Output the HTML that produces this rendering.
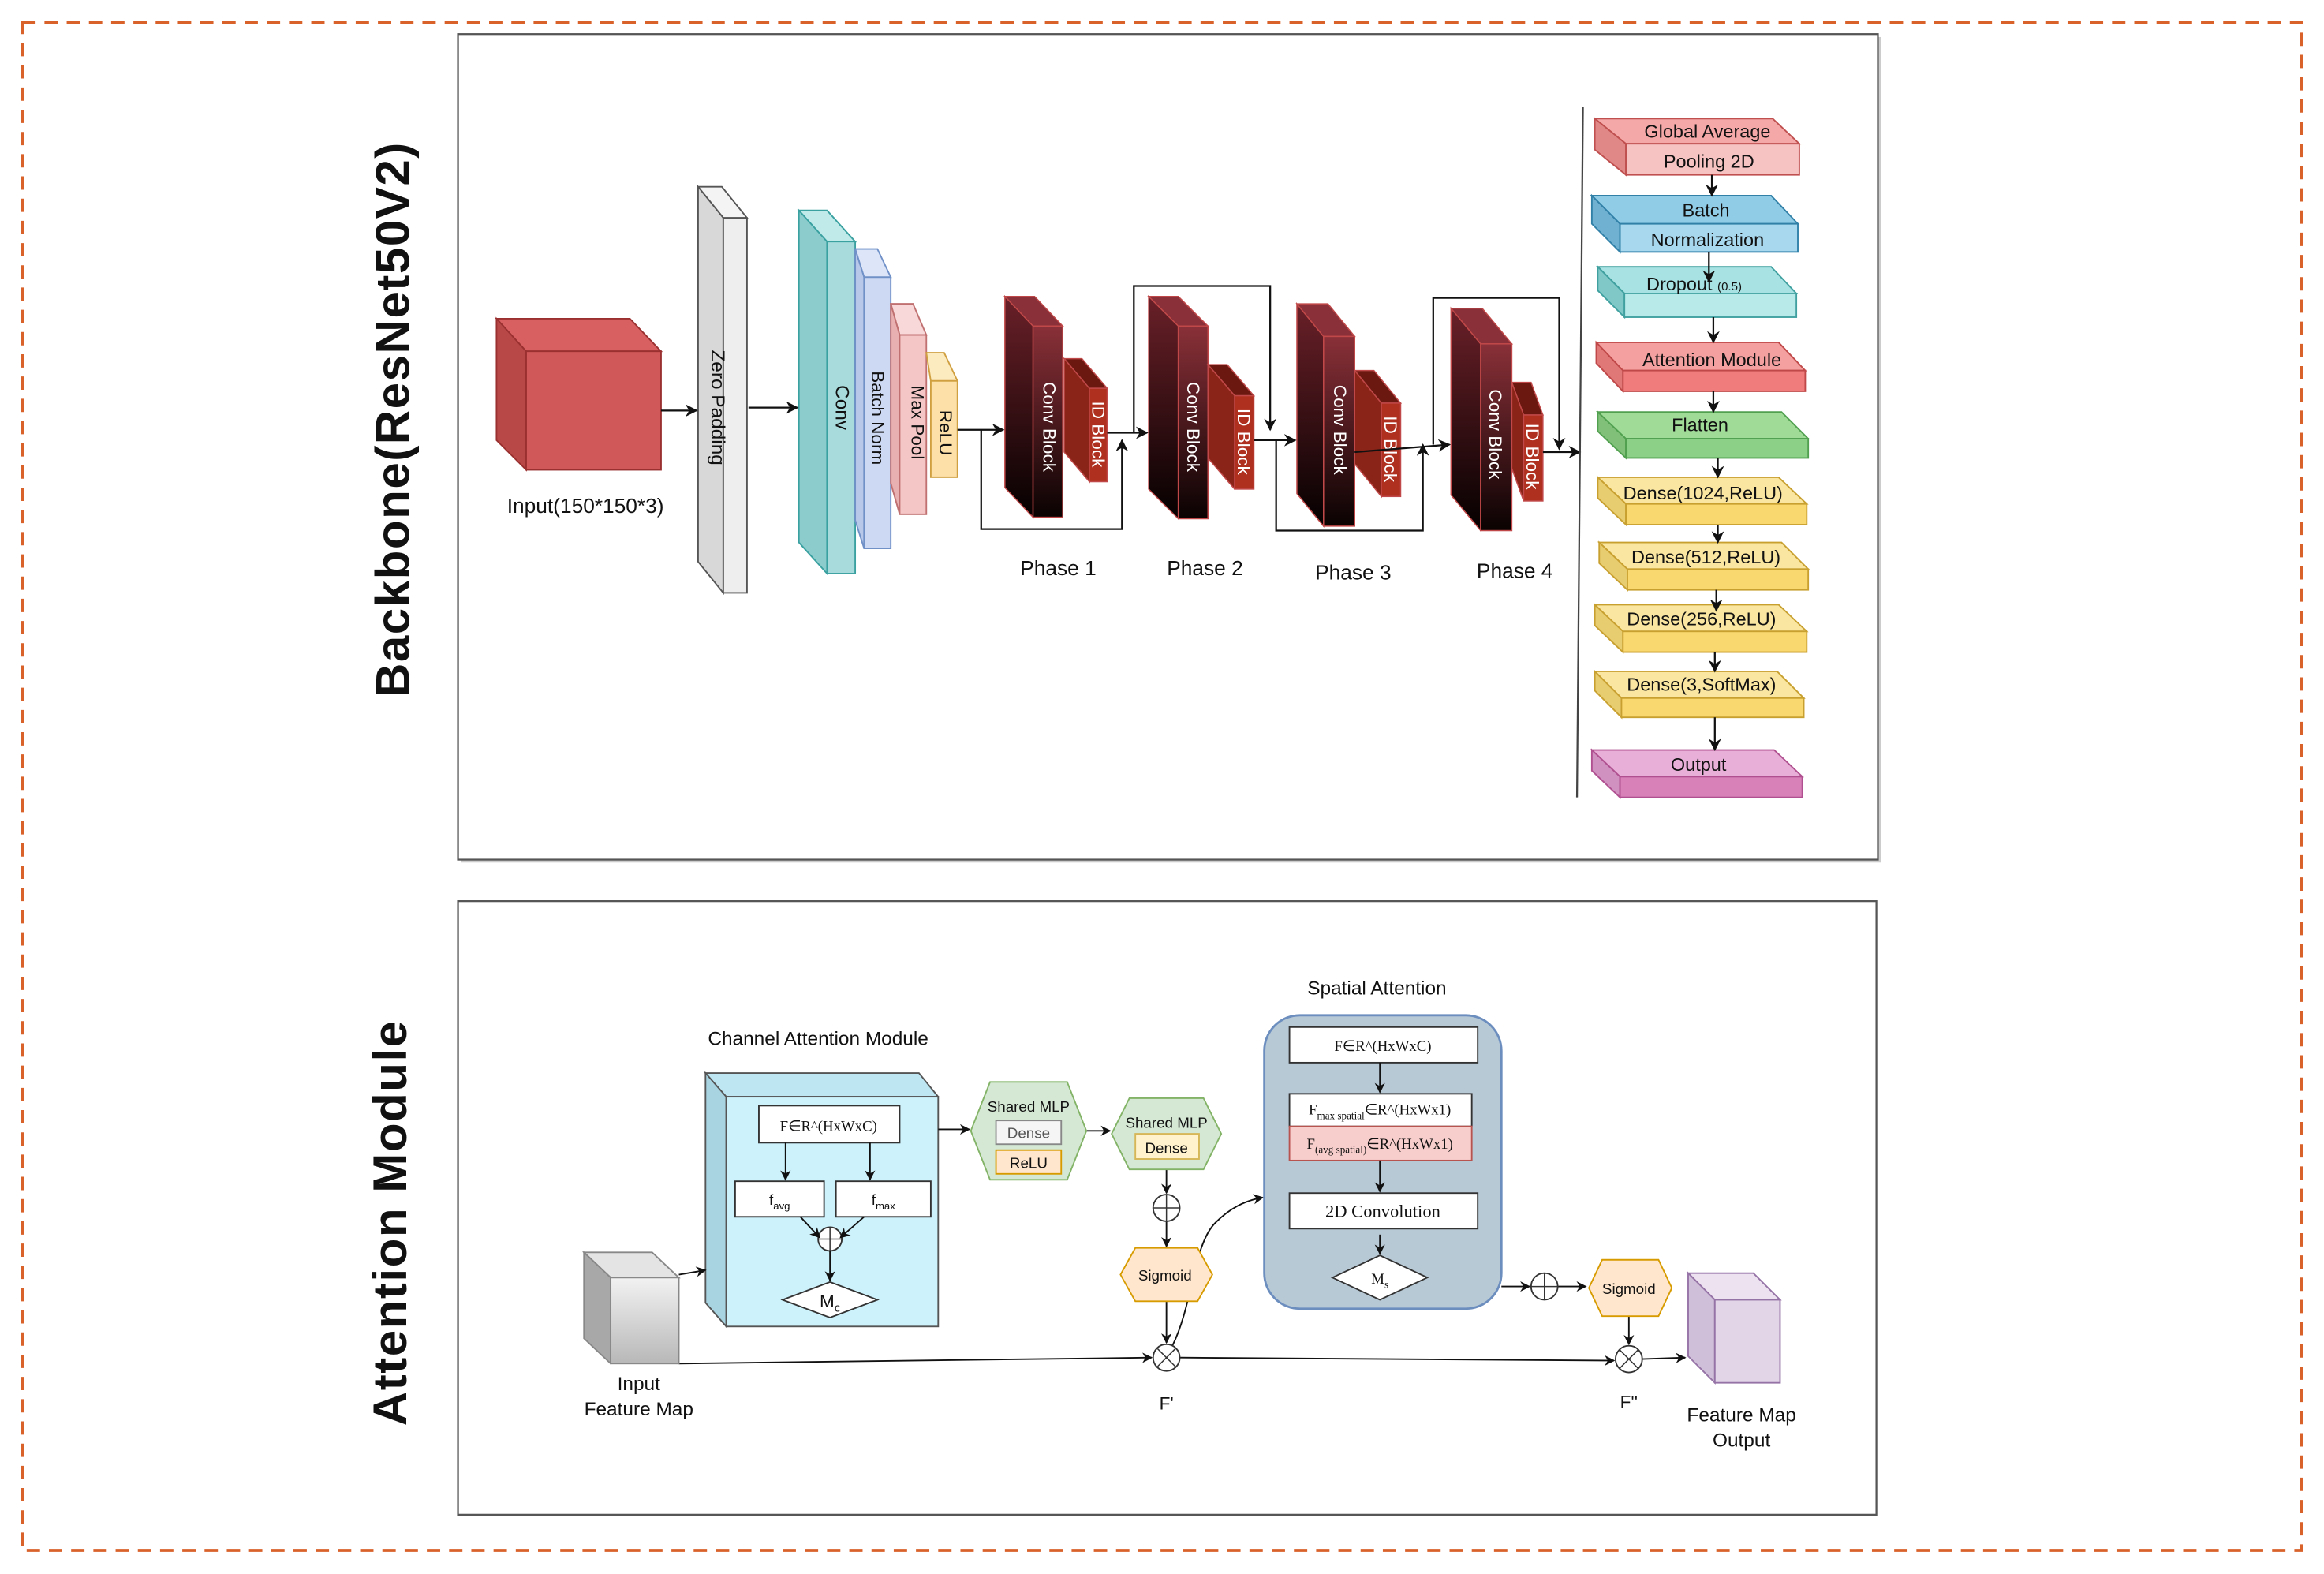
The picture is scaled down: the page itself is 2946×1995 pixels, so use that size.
<!DOCTYPE html>
<html><head><meta charset="utf-8"><style>
html,body{margin:0;padding:0;background:#fff}
svg{display:block}
text{font-family:"Liberation Sans",sans-serif;fill:#111}
.s{font-family:"Liberation Serif",serif}
</style></head><body>
<svg width="2946" height="1995" viewBox="0 0 1568 1062" preserveAspectRatio="none" xmlns="http://www.w3.org/2000/svg">
<defs>
<marker id="a" viewBox="0 0 10 10" refX="9" refY="5" markerWidth="7" markerHeight="7" orient="auto-start-reverse"><path d="M0,0 L10,5 L0,10 L3,5 z" fill="#111"/></marker>
<linearGradient id="dr" x1="0" y1="0" x2="0" y2="1"><stop offset="0" stop-color="#8a3038"/><stop offset="1" stop-color="#0a0202"/></linearGradient>
<linearGradient id="dr2" x1="0" y1="0" x2="0" y2="1"><stop offset="0" stop-color="#6a2028"/><stop offset="1" stop-color="#050000"/></linearGradient>
<linearGradient id="gr" x1="0" y1="0" x2="0" y2="1"><stop offset="0" stop-color="#f2f2f2"/><stop offset="1" stop-color="#b8b8b8"/></linearGradient>
</defs>
<rect width="1568" height="1062" fill="#fff"/>
<rect x="15" y="15" width="1538" height="1031" fill="none" stroke="#d9622b" stroke-width="2" stroke-dasharray="9,6"/>
<rect x="311" y="25" width="958" height="557" fill="#ccc"/>
<rect x="309" y="23" width="958" height="557" fill="#fff" stroke="#555" stroke-width="1.2"/>
<rect x="309" y="608" width="957" height="414" fill="#fff" stroke="#555" stroke-width="1.2"/>
<text transform="translate(276,283) rotate(-90)" text-anchor="middle" font-size="32" letter-spacing="0.8" font-weight="bold">Backbone(ResNet50V2)</text>
<text transform="translate(274,825) rotate(-90)" text-anchor="middle" font-size="32" letter-spacing="0.8" font-weight="bold">Attention Module</text>

<polygon points="335,215 425,215 446,237 355,237" fill="#d86060" stroke="#9a3030"/>
<polygon points="335,215 355,237 355,317 335,297" fill="#b84848" stroke="#9a3030"/>
<rect x="355" y="237" width="91" height="80" fill="#d05858" stroke="#9a3030"/>
<text x="395" y="346" text-anchor="middle" font-size="14">Input(150*150*3)</text>

<g stroke="#555">
<polygon points="471,126 488,147 504,147 487,126" fill="#f4f4f4"/>
<polygon points="471,126 488,147 488,400 471,379" fill="#d8d8d8"/>
<rect x="488" y="147" width="16" height="253" fill="#eee"/>
</g>
<text transform="translate(480,275) rotate(90)" text-anchor="middle" font-size="13">Zero Padding</text>
<g stroke="#3aa0a0">
<polygon points="539,142 558,163 577,163 558,142" fill="#c0eaea"/>
<polygon points="539,142 558,163 558,387 539,366" fill="#8ccccc"/>
<rect x="558" y="163" width="19" height="224" fill="#a8dcdc"/>
</g>
<text transform="translate(564,275) rotate(90)" text-anchor="middle" font-size="13">Conv</text>
<g stroke="#7090c8">
<polygon points="577,168 583,187 601,187 592,168" fill="#dde6f8"/>
<polygon points="577,168 583,187 583,370 577,351" fill="#b8c8e8"/>
<rect x="583" y="187" width="18" height="183" fill="#cdd9f2"/>
</g>
<text transform="translate(588,282) rotate(90)" text-anchor="middle" font-size="12">Batch Norm</text>
<g stroke="#c07070">
<polygon points="601,205 607,226 625,226 616,205" fill="#f8d8d8"/>
<polygon points="601,205 607,226 607,347 601,326" fill="#e8b0b0"/>
<rect x="607" y="226" width="18" height="121" fill="#f4c6c6"/>
</g>
<text transform="translate(615,285) rotate(90)" text-anchor="middle" font-size="12">Max Pool</text>
<g stroke="#d0a040">
<polygon points="625,238 628,257 646,257 637,238" fill="#fdebc0"/>
<rect x="628" y="257" width="18" height="65" fill="#fce0a8"/>
</g>
<text transform="translate(634,292) rotate(90)" text-anchor="middle" font-size="12">ReLU</text>

<g stroke="#c04848" stroke-width="0.8">
<polygon points="678,200 697,220 697,349 678,329" fill="url(#dr2)"/>
<polygon points="678,200 697,220 717,220 698,200" fill="#8a3038"/>
<rect x="697" y="220" width="20" height="129" fill="url(#dr)"/>
<polygon points="718,242 735,262 747,262 730,242" fill="#6a1810"/>
<polygon points="718,242 735,262 735,325 718,305" fill="#8a2418"/>
<rect x="735" y="262" width="12" height="63" fill="#b03020"/>

<polygon points="775,200 795,220 795,350 775,330" fill="url(#dr2)"/>
<polygon points="775,200 795,220 815,220 795,200" fill="#8a3038"/>
<rect x="795" y="220" width="20" height="130" fill="url(#dr)"/>
<polygon points="815,246 833,267 846,267 828,246" fill="#6a1810"/>
<polygon points="815,246 833,267 833,330 815,309" fill="#8a2418"/>
<rect x="833" y="267" width="13" height="63" fill="#b03020"/>

<polygon points="875,205 893,227 893,355 875,333" fill="url(#dr2)"/>
<polygon points="875,205 893,227 914,227 896,205" fill="#8a3038"/>
<rect x="893" y="227" width="21" height="128" fill="url(#dr)"/>
<polygon points="914,250 932,272 945,272 927,250" fill="#6a1810"/>
<polygon points="914,250 932,272 932,335 914,313" fill="#8a2418"/>
<rect x="932" y="272" width="13" height="63" fill="#b03020"/>

<polygon points="979,208 999,232 999,358 979,334" fill="url(#dr2)"/>
<polygon points="979,208 999,232 1020,232 1000,208" fill="#8a3038"/>
<rect x="999" y="232" width="21" height="126" fill="url(#dr)"/>
<polygon points="1020,258 1028,280 1041,280 1033,258" fill="#6a1810"/>
<polygon points="1020,258 1028,280 1028,338 1020,316" fill="#8a2418"/>
<rect x="1028" y="280" width="13" height="58" fill="#b03020"/>
</g>
<g font-size="12" text-anchor="middle">
<text transform="translate(704,288) rotate(90)" style="fill:#fff">Conv Block</text>
<text transform="translate(737,293) rotate(90)" style="fill:#fff">ID Block</text>
<text transform="translate(801,288) rotate(90)" style="fill:#fff">Conv Block</text>
<text transform="translate(835,298) rotate(90)" style="fill:#fff">ID Block</text>
<text transform="translate(900,290) rotate(90)" style="fill:#fff">Conv Block</text>
<text transform="translate(934,303) rotate(90)" style="fill:#fff">ID Block</text>
<text transform="translate(1005,293) rotate(90)" style="fill:#fff">Conv Block</text>
<text transform="translate(1030,308) rotate(90)" style="fill:#fff">ID Block</text>
</g>
<g font-size="14" text-anchor="middle">
<text x="714" y="388">Phase 1</text><text x="813" y="388">Phase 2</text>
<text x="913" y="391">Phase 3</text><text x="1022" y="390">Phase 4</text>
</g>

<g stroke="#111" stroke-width="1.2" fill="none">
<line x1="446" y1="277" x2="470" y2="277" marker-end="url(#a)"/>
<line x1="505" y1="275" x2="538" y2="275" marker-end="url(#a)"/>
<line x1="646" y1="290" x2="677" y2="290" marker-end="url(#a)"/>
<polyline points="662,290 662,357 757,357 757,297" marker-end="url(#a)"/>
<line x1="747" y1="292" x2="774" y2="292" marker-end="url(#a)"/>
<polyline points="765,292 765,193 857,193 857,290" marker-end="url(#a)"/>
<line x1="846" y1="297" x2="874" y2="297" marker-end="url(#a)"/>
<polyline points="861,297 861,358 960,358 960,300" marker-end="url(#a)"/>
<line x1="914" y1="305" x2="978" y2="300" marker-end="url(#a)"/>
<polyline points="967,300 967,201 1052,201 1052,303" marker-end="url(#a)"/>
<line x1="1041" y1="305" x2="1066" y2="305" marker-end="url(#a)"/>
<line x1="1068" y1="72" x2="1064" y2="538" stroke="#444"/>
</g>

<g stroke-width="1">
<polygon points="1076,80 1196,80 1214,97 1097,97" fill="#f4a8a8" stroke="#c05050"/>
<polygon points="1076,80 1097,97 1097,118 1076,101" fill="#e08888" stroke="#c05050"/>
<rect x="1097" y="97" width="117" height="21" fill="#f6c2c2" stroke="#c05050"/>
<polygon points="1074,132 1195,132 1213,151 1093,151" fill="#90cce6" stroke="#3080a8"/>
<polygon points="1074,132 1093,151 1093,170 1074,151" fill="#70b0d0" stroke="#3080a8"/>
<rect x="1093" y="151" width="120" height="19" fill="#a8d8ee" stroke="#3080a8"/>
<polygon points="1078,180 1195,180 1212,198 1096,198" fill="#a8e2e2" stroke="#40a0a0"/>
<polygon points="1078,180 1096,198 1096,214 1078,196" fill="#80c8c8" stroke="#40a0a0"/>
<rect x="1096" y="198" width="116" height="16" fill="#b8eaea" stroke="#40a0a0"/>
<polygon points="1077,231 1200,231 1218,250 1095,250" fill="#f4a0a0" stroke="#c04848"/>
<polygon points="1077,231 1095,250 1095,264 1077,245" fill="#e07878" stroke="#c04848"/>
<rect x="1095" y="250" width="123" height="14" fill="#f07c7c" stroke="#c04848"/>
<polygon points="1078,278 1202,278 1220,296 1097,296" fill="#a0dc98" stroke="#50a050"/>
<polygon points="1078,278 1097,296 1097,309 1078,291" fill="#80c078" stroke="#50a050"/>
<rect x="1097" y="296" width="123" height="13" fill="#8cd088" stroke="#50a050"/>
<polygon points="1078,322 1200,322 1219,340 1097,340" fill="#fae6a0" stroke="#c8a030"/>
<polygon points="1078,322 1097,340 1097,354 1078,336" fill="#e8cc70" stroke="#c8a030"/>
<rect x="1097" y="340" width="122" height="14" fill="#fad870" stroke="#c8a030"/>
<polygon points="1079,366 1202,366 1220,384 1098,384" fill="#fae6a0" stroke="#c8a030"/>
<polygon points="1079,366 1098,384 1098,398 1079,380" fill="#e8cc70" stroke="#c8a030"/>
<rect x="1098" y="384" width="122" height="14" fill="#fad870" stroke="#c8a030"/>
<polygon points="1076,408 1200,408 1219,426 1095,426" fill="#fae6a0" stroke="#c8a030"/>
<polygon points="1076,408 1095,426 1095,440 1076,422" fill="#e8cc70" stroke="#c8a030"/>
<rect x="1095" y="426" width="124" height="14" fill="#fad870" stroke="#c8a030"/>
<polygon points="1076,453 1199,453 1217,471 1094,471" fill="#fae6a0" stroke="#c8a030"/>
<polygon points="1076,453 1094,471 1094,484 1076,466" fill="#e8cc70" stroke="#c8a030"/>
<rect x="1094" y="471" width="123" height="13" fill="#fad870" stroke="#c8a030"/>
<polygon points="1074,506 1197,506 1216,524 1093,524" fill="#e8b0d8" stroke="#b05090"/>
<polygon points="1074,506 1093,524 1093,538 1074,520" fill="#d090c0" stroke="#b05090"/>
<rect x="1093" y="524" width="123" height="14" fill="#d880b8" stroke="#b05090"/>
</g>
<g font-size="12.5" text-anchor="middle">
<text x="1152" y="93">Global Average</text><text x="1153" y="113">Pooling 2D</text>
<text x="1151" y="146">Batch</text><text x="1152" y="166">Normalization</text>
<text x="1143" y="196">Dropout <tspan font-size="8">(0.5)</tspan></text>
<text x="1155" y="247">Attention Module</text>
<text x="1147" y="291">Flatten</text>
<text x="1149" y="337">Dense(1024,ReLU)</text>
<text x="1151" y="380">Dense(512,ReLU)</text>
<text x="1148" y="422">Dense(256,ReLU)</text>
<text x="1148" y="466">Dense(3,SoftMax)</text>
<text x="1146" y="520">Output</text>
</g>
<g stroke="#111" stroke-width="1.2">
<line x1="1155" y1="118" x2="1155" y2="132" marker-end="url(#a)"/>
<line x1="1153" y1="170" x2="1153" y2="190" marker-end="url(#a)"/>
<line x1="1156" y1="214" x2="1156" y2="231" marker-end="url(#a)"/>
<line x1="1156" y1="264" x2="1156" y2="278" marker-end="url(#a)"/>
<line x1="1159" y1="309" x2="1159" y2="322" marker-end="url(#a)"/>
<line x1="1159" y1="354" x2="1159" y2="366" marker-end="url(#a)"/>
<line x1="1158" y1="398" x2="1158" y2="412" marker-end="url(#a)"/>
<line x1="1157" y1="440" x2="1157" y2="453" marker-end="url(#a)"/>
<line x1="1157" y1="484" x2="1157" y2="506" marker-end="url(#a)"/>
</g>

<text x="552" y="705" text-anchor="middle" font-size="13">Channel Attention Module</text>
<polygon points="476,724 620,724 633,740 490,740" fill="#bde6f2" stroke="#555"/>
<polygon points="476,724 490,740 490,895 476,879" fill="#a8d4e2" stroke="#555"/>
<rect x="490" y="740" width="143" height="155" fill="#cdf2fc" stroke="#555"/>
<g stroke="#333" fill="#fff">
<rect x="512" y="746" width="95" height="25"/>
<rect x="496" y="797" width="60" height="24"/>
<rect x="564" y="797" width="64" height="24"/>
<circle cx="560" cy="836" r="8"/>
<polygon points="528,877 560,865 592,877 560,889"/>
</g>
<g stroke="#333" stroke-width="0.8"><line x1="552" y1="836" x2="568" y2="836"/><line x1="560" y1="828" x2="560" y2="844"/></g>
<text class="s" x="559" y="763" text-anchor="middle" font-size="10">F∈R^(HxWxC)</text>
<text x="526" y="813" text-anchor="middle" font-size="10">f<tspan font-size="7" dy="3">avg</tspan></text>
<text x="596" y="813" text-anchor="middle" font-size="10">f<tspan font-size="7" dy="3">max</tspan></text>
<text x="560" y="882" text-anchor="middle" font-size="12">M<tspan font-size="8" dy="3">c</tspan></text>
<g stroke="#111" stroke-width="1" fill="none">
<line x1="530" y1="771" x2="530" y2="796" marker-end="url(#a)"/>
<line x1="587" y1="771" x2="587" y2="796" marker-end="url(#a)"/>
<line x1="540" y1="821" x2="553" y2="835" marker-end="url(#a)"/>
<line x1="583" y1="821" x2="567" y2="835" marker-end="url(#a)"/>
<line x1="560" y1="844" x2="560" y2="864" marker-end="url(#a)"/>
<line x1="633" y1="762" x2="654" y2="762" marker-end="url(#a)"/>
<line x1="733" y1="763" x2="749" y2="763" marker-end="url(#a)"/>
<line x1="787" y1="789" x2="787" y2="805" marker-end="url(#a)"/>
<line x1="787" y1="824" x2="787" y2="841" marker-end="url(#a)"/>
<line x1="787" y1="878" x2="787" y2="906" marker-end="url(#a)"/>
<line x1="458" y1="860" x2="476" y2="857" marker-end="url(#a)"/>
<polyline points="458,920 777,916" marker-end="url(#a)"/>
<path d="M791,908 C805,880 805,840 820,825 C830,815 840,810 852,808" marker-end="url(#a)"/>
<line x1="796" y1="916" x2="1089" y2="918" marker-end="url(#a)"/>
<line x1="1013" y1="868" x2="1032" y2="868" marker-end="url(#a)"/>
<line x1="1051" y1="868" x2="1070" y2="868" marker-end="url(#a)"/>
<line x1="1099" y1="888" x2="1099" y2="907" marker-end="url(#a)"/>
<line x1="1108" y1="917" x2="1137" y2="916" marker-end="url(#a)"/>
</g>
<polygon points="668,730 720,730 733,763 720,796 668,796 655,763" fill="#d5e8d4" stroke="#82b366"/>
<text x="694" y="750" text-anchor="middle" font-size="10">Shared MLP</text>
<rect x="672" y="756" width="44" height="16" fill="#f5f5f5" stroke="#888"/>
<text x="694" y="768" text-anchor="middle" font-size="10" style="fill:#555">Dense</text>
<rect x="672" y="776" width="44" height="16" fill="#ffe6cc" stroke="#d79b00"/>
<text x="694" y="788" text-anchor="middle" font-size="10">ReLU</text>
<polygon points="762,741 812,741 824,765 812,789 762,789 750,765" fill="#d5e8d4" stroke="#82b366"/>
<text x="787" y="761" text-anchor="middle" font-size="10">Shared MLP</text>
<rect x="766" y="765" width="43" height="17" fill="#fff2cc" stroke="#d6b656"/>
<text x="787" y="778" text-anchor="middle" font-size="10">Dense</text>
<g stroke="#333" fill="#fff">
<circle cx="787" cy="815" r="9"/><circle cx="787" cy="916" r="9"/>
<circle cx="1042" cy="868" r="9"/><circle cx="1099" cy="917" r="9"/>
</g>
<g stroke="#333" stroke-width="0.8">
<line x1="778" y1="815" x2="796" y2="815"/><line x1="787" y1="806" x2="787" y2="824"/>
<line x1="1033" y1="868" x2="1051" y2="868"/><line x1="1042" y1="859" x2="1042" y2="877"/>
<line x1="781" y1="910" x2="793" y2="922"/><line x1="793" y1="910" x2="781" y2="922"/>
<line x1="1093" y1="911" x2="1105" y2="923"/><line x1="1105" y1="911" x2="1093" y2="923"/>
</g>
<polygon points="766,842 808,842 818,860 808,878 766,878 756,860" fill="#ffe6cc" stroke="#d79b00"/>
<text x="786" y="864" text-anchor="middle" font-size="10">Sigmoid</text>
<polygon points="1081,850 1119,850 1128,869 1119,888 1081,888 1072,869" fill="#ffe6cc" stroke="#d79b00"/>
<text x="1099" y="873" text-anchor="middle" font-size="10">Sigmoid</text>
<text x="787" y="951" text-anchor="middle" font-size="12">F'</text>
<text x="1099" y="950" text-anchor="middle" font-size="12">F''</text>

<polygon points="394,845 440,845 458,862 412,862" fill="#e4e4e4" stroke="#888"/>
<polygon points="394,845 412,862 412,920 394,903" fill="#a8a8a8" stroke="#888"/>
<rect x="412" y="862" width="46" height="58" fill="url(#gr)" stroke="#888"/>
<text x="431" y="938" text-anchor="middle" font-size="13">Input</text>
<text x="431" y="955" text-anchor="middle" font-size="13">Feature Map</text>

<polygon points="1139,859 1183,859 1201,877 1157,877" fill="#ece2f0" stroke="#9673a6"/>
<polygon points="1139,859 1157,877 1157,933 1139,915" fill="#cfbfd8" stroke="#9673a6"/>
<rect x="1157" y="877" width="44" height="56" fill="#e1d5e7" stroke="#9673a6"/>
<text x="1175" y="959" text-anchor="middle" font-size="13">Feature Map</text>
<text x="1175" y="976" text-anchor="middle" font-size="13">Output</text>

<text x="929" y="671" text-anchor="middle" font-size="13">Spatial Attention</text>
<rect x="853" y="685" width="160" height="198" rx="24" fill="#b8c9d6" stroke="#6c8ebf" stroke-width="1.5"/>
<g stroke="#333">
<rect x="870" y="693" width="127" height="24" fill="#fff"/>
<rect x="870" y="738" width="123" height="22" fill="#fff"/>
<rect x="870" y="760" width="123" height="23" fill="#f8cecc" stroke="#b85450"/>
<rect x="870" y="805" width="127" height="24" fill="#fff"/>
<polygon points="899,862 931,847 963,862 931,877" fill="#fff"/>
</g>
<g stroke="#111" stroke-width="1">
<line x1="931" y1="717" x2="931" y2="737" marker-end="url(#a)"/>
<line x1="931" y1="783" x2="931" y2="804" marker-end="url(#a)"/>
<line x1="931" y1="833" x2="931" y2="846" marker-end="url(#a)"/>
</g>
<g font-size="10" text-anchor="middle">
<text class="s" x="933" y="709">F∈R^(HxWxC)</text>
<text class="s" x="931" y="752">F<tspan font-size="7" dy="3">max  spatial</tspan><tspan dy="-3">∈R^(HxWx1)</tspan></text>
<text class="s" x="931" y="775">F<tspan font-size="7" dy="3">(avg spatial)</tspan><tspan dy="-3">∈R^(HxWx1)</tspan></text>
<text class="s" x="933" y="821" font-size="12">2D Convolution</text>
<text class="s" x="931" y="866">M<tspan font-size="7" dy="3">s</tspan></text>
</g>
</svg>
</body></html>
